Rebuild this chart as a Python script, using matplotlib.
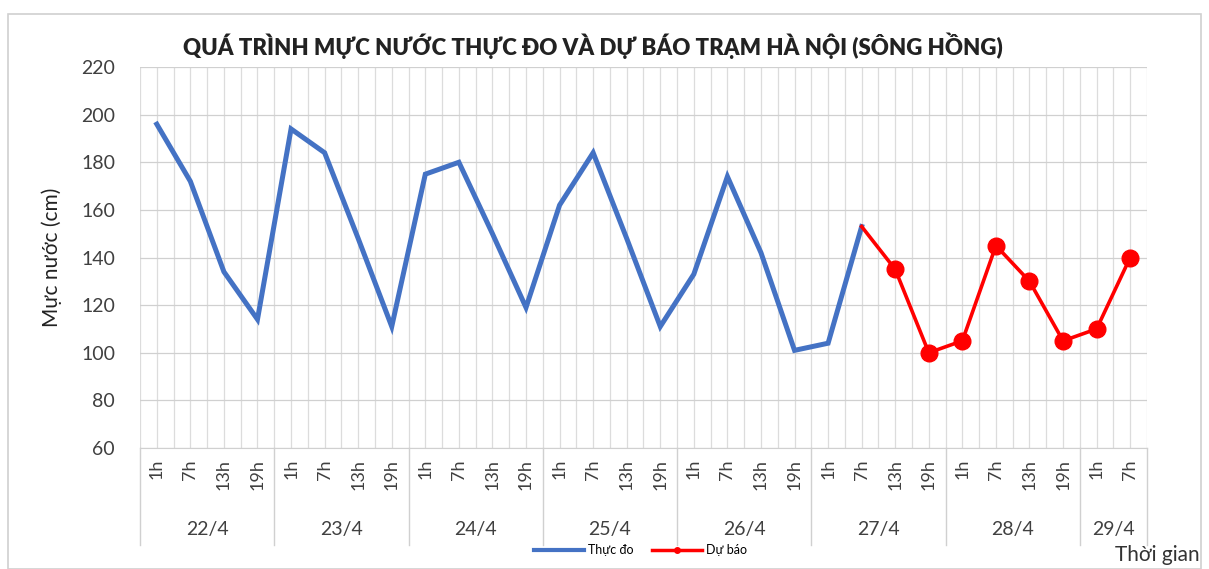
import matplotlib
matplotlib.use("Agg")
import matplotlib.pyplot as plt
from matplotlib.lines import Line2D
from matplotlib.patches import Rectangle
import numpy as np

plt.rcParams["font.family"] = ["Lato", "DejaVu Sans"]

# data
days = ["22/4", "23/4", "24/4", "25/4", "26/4", "27/4", "28/4", "29/4"]
hours_per_day = [4, 4, 4, 4, 4, 4, 4, 2]
hours = ["1h", "7h", "13h", "19h"]
observed = [196, 172, 134, 114,
            194, 184, 148, 111,
            175, 180, 150, 119,
            162, 184, 148, 111,
            133, 174, 142, 101,
            104, 153]
forecast = [153, 135, 100, 105, 145, 130, 105, 110, 140]  # from 27/4 7h onwards
forecast_start = 21

labels = [h for n in hours_per_day for h in hours[:n]]
n = len(labels)
x = np.arange(n)

fig = plt.figure(figsize=(12.09, 5.69), dpi=100)
fig.patches.append(Rectangle((0.007, 0.0), 0.986, 0.975, transform=fig.transFigure,
                             fill=False, edgecolor="#d0d0d0", lw=1.2))
ax = fig.add_axes([0.1158, 0.2127, 0.8329, 0.6695])

ax.plot(x[:len(observed)], observed, color="#4472C4", lw=3.6, solid_joinstyle="miter", zorder=3)
xf = x[forecast_start:forecast_start + len(forecast)]
ax.plot(xf, forecast, color="#FF0000", lw=2.6, zorder=4)
ax.plot(xf[1:], forecast[1:], "o", color="#FF0000", ms=12, zorder=5)

ax.set_xlim(-0.5, n - 0.5)
ax.set_ylim(60, 220)
ax.set_yticks(range(60, 221, 20))
ax.set_xticks(x)
ax.set_xticklabels(labels, rotation=90, fontsize=13, color="#404040")
ax.set_xticks(np.arange(-0.5, n, 1), minor=True)
ax.tick_params(axis="x", which="both", length=0, pad=8)
ax.tick_params(axis="y", length=0, pad=18, labelsize=14, labelcolor="#404040")
ax.grid(True, which="both", axis="x", color="#dcdcdc", lw=0.9)
ax.grid(True, which="major", axis="y", color="#d0d0d0", lw=0.9)
ax.set_axisbelow(True)
for s in ["top", "right", "left"]:
    ax.spines[s].set_visible(False)
ax.spines["bottom"].set_color("#d0d0d0")

# day groups under the hour labels
trans = ax.get_xaxis_transform()
edges = np.concatenate([[0], np.cumsum(hours_per_day)]) - 0.5
for e in edges:
    ax.plot([e, e], [0, -0.255], transform=trans, color="#d0d0d0", lw=1, clip_on=False)
for d, a, b in zip(days, edges[:-1], edges[1:]):
    ax.text((a + b) / 2, -0.215, d, transform=trans, ha="center", va="center",
            fontsize=14, color="#404040")

ax.set_ylabel("Mực nước (cm)", fontsize=15, color="#222222", labelpad=14)
fig.text(0.49, 0.92, "QUÁ TRÌNH MỰC NƯỚC THỰC ĐO VÀ DỰ BÁO TRẠM HÀ NỘI (SÔNG HỒNG)",
         ha="center", va="center", fontsize=16, fontweight="heavy", color="#222222")
fig.text(0.992, 0.025, "Thời gian", ha="right", va="center", fontsize=15, color="#333333")

handles = [Line2D([], [], color="#4472C4", lw=3),
           Line2D([], [], color="#FF0000", lw=2.5, marker="o", ms=4)]
fig.legend(handles, ["Thực đo", "Dự báo"], loc="center", bbox_to_anchor=(0.53, 0.033),
           ncol=2, frameon=False, fontsize=9, handlelength=4, columnspacing=1.5,
           handletextpad=0.3)

fig.savefig("out.png", dpi=100)
